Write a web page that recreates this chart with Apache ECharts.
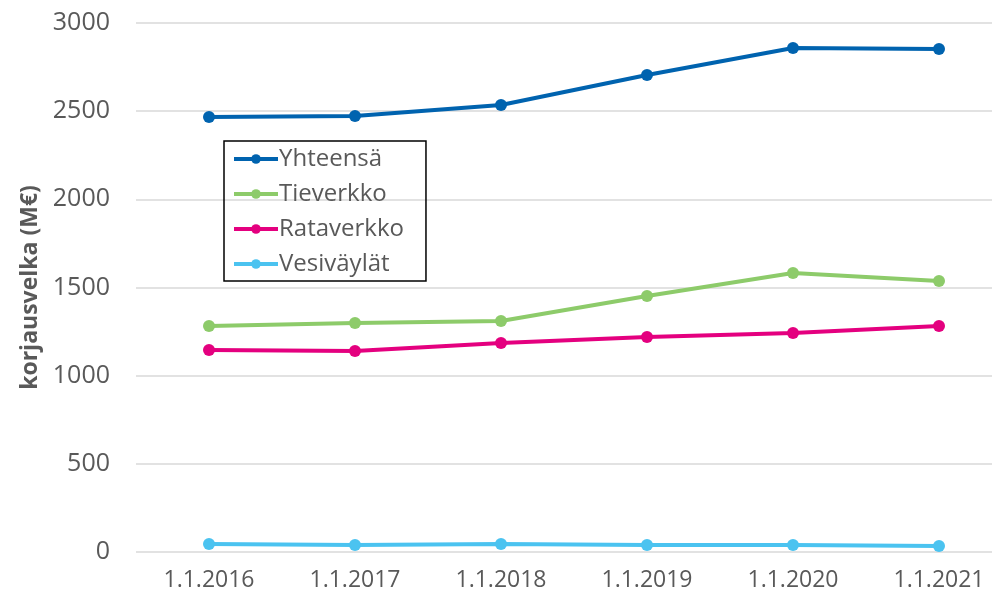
<!DOCTYPE html>
<html>
<head>
<meta charset="utf-8">
<script src="https://cdn.jsdelivr.net/npm/echarts@6/dist/echarts.min.js"></script>
<style>
  html, body { margin: 0; padding: 0; background: #fff; }
  #main { width: 992px; height: 595px; }
</style>
</head>
<body>
<div id="main"></div>
<script>
var categories = ['1.1.2016', '1.1.2017', '1.1.2018', '1.1.2019', '1.1.2020', '1.1.2021'];
var yhteensa = [2467, 2473, 2535, 2705, 2858, 2853];
var tieverkko = [1282, 1299, 1310, 1452, 1582, 1537];
var rataverkko = [1146, 1140, 1185, 1219, 1242, 1282];
var vesivaylat = [45, 40, 45, 40, 40, 34];

var myChart = echarts.init(document.getElementById('main'));
var colors = ['#0063af', '#8dcb6a', '#e4007f', '#4bc3f0'];
var font = '"Open Sans", sans-serif';

function lineSeries(name, data) {
    return {
        name: name,
        type: 'line',
        data: data,
        symbol: 'circle',
        symbolSize: 12,
        lineStyle: { width: 4 },
        emphasis: { disabled: true }
    };
}

var option = {
    color: colors,
    animation: false,
    textStyle: { fontFamily: font },
    legend: {
        orient: 'vertical',
        left: 224,
        top: 141,
        padding: [6, 22, 5, 8],
        borderColor: '#000',
        borderWidth: 1.5,
        itemGap: 11,
        itemWidth: 44,
        itemHeight: 12,
        lineStyle: { width: 4 },
        textStyle: { fontSize: 24, color: '#595959', padding: [0, 0, 0, -4] },
        data: ['Yhteensä', 'Tieverkko', 'Rataverkko', 'Vesiväylät']
    },
    grid: {
        left: 136,
        right: -20,
        top: 23,
        bottom: 43,
        outerBoundsMode: 'none'
    },
    xAxis: {
        type: 'category',
        data: categories,
        axisLine: { show: false },
        axisTick: { show: false },
        axisLabel: { fontSize: 23, color: '#595959', margin: 17 }
    },
    yAxis: {
        type: 'value',
        min: 0,
        max: 3000,
        interval: 500,
        name: 'korjausvelka (M€)',
        nameLocation: 'middle',
        nameGap: 92,
        nameTextStyle: { fontSize: 23, fontWeight: 'bold', color: '#595959' },
        axisLabel: {
            fontSize: 25,
            color: '#595959',
            margin: 26,
            formatter: function (v) { return String(v); }
        },
        splitLine: { lineStyle: { color: '#d9d9d9', width: 1.5 } }
    },
    series: [
        lineSeries('Yhteensä', yhteensa),
        lineSeries('Tieverkko', tieverkko),
        lineSeries('Rataverkko', rataverkko),
        lineSeries('Vesiväylät', vesivaylat)
    ]
};
myChart.setOption(option);
</script>
</body>
</html>
